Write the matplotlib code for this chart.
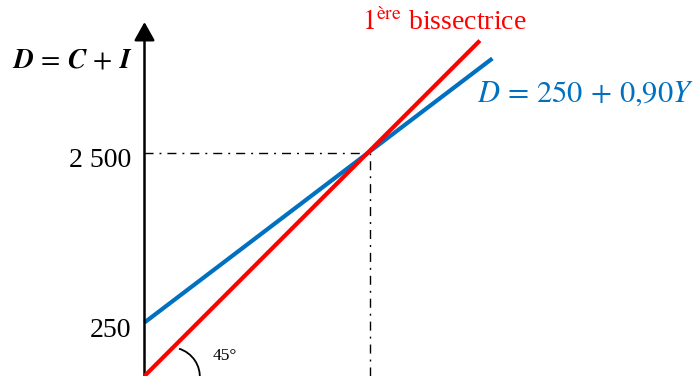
import numpy as np
import matplotlib.pyplot as plt
from matplotlib.patches import Arc

plt.rcParams['font.family'] = ['Liberation Serif', 'DejaVu Serif']
plt.rcParams['mathtext.fontset'] = 'stix'

# schematic values (read off the picture, not to scale)
y_eq = 2500                     # equilibrium income / demand
bis_x = [0, 3760]               # 1ere bissectrice D = Y
bis_y = [0, 3760]
dem_x = [0, 3900]               # D = 250 + 0,90Y as drawn
dem_y = [600, 3560]
ytick_pos = [600, 2500]
ytick_lab = ['250', '2 500']
axis_top = 3968

s = 2500 / 223.0                # data units per pixel
W, H = 695, 376

fig = plt.figure(figsize=(W / 100, H / 100), dpi=100)
ax = fig.add_axes([0, 0, 1, 1])
ax.set_xlim(-144.5 * s, (W - 144.5) * s)
ax.set_ylim(0, H * s)
ax.axis('off')

# y axis with arrow
ax.annotate('', xy=(0, axis_top), xytext=(0, 0),
            arrowprops=dict(arrowstyle='-|>,head_length=0.75,head_width=0.42',
                            lw=1.8, color='black', mutation_scale=15,
                            shrinkA=0, shrinkB=0))

# guide lines
dd = (0, (6.5, 4.3, 1.4, 4.3))
ax.plot([0, y_eq], [y_eq, y_eq], color='black', lw=1, ls=dd, zorder=1)
ax.plot([y_eq + 30, y_eq + 30], [0, y_eq], color='black', lw=1, ls=dd, zorder=1)

ax.plot(dem_x, dem_y, color='#0070C0', lw=3, solid_capstyle='butt', zorder=2)
ax.plot(bis_x, bis_y, color='#FF0000', lw=3, solid_capstyle='butt', zorder=3)

# 45 degree arc
ax.add_patch(Arc((290, -10), 2 * 29.5 * s, 2 * 29.5 * s, theta1=-5, theta2=73,
                 color='black', lw=1.3))
ax.text(765, 179, '45°', fontsize=12.5, ha='left', va='baseline')

# tick labels
ax.text(-150, 2343, ytick_lab[1], fontsize=20, ha='right', va='baseline')
ax.text(-150, 437, ytick_lab[0], fontsize=20, ha='right', va='baseline')

ax.text(-135, 3464, r'$\mathbfit{D}\,=\,\mathbfit{C}\,+\,\mathbfit{I}$',
        fontsize=20, ha='right', va='baseline')

ax.text(2433, 3879, r'$\mathrm{1^{ère}}$ bissectrice', fontsize=20,
        color='#FF0000', ha='left', va='baseline')
ax.text(3733, 3072, r'$D\,=\,250\,+\,0{,}90Y$', fontsize=22,
        color='#0070C0', ha='left', va='baseline')

fig.savefig('out.png', dpi=100)
